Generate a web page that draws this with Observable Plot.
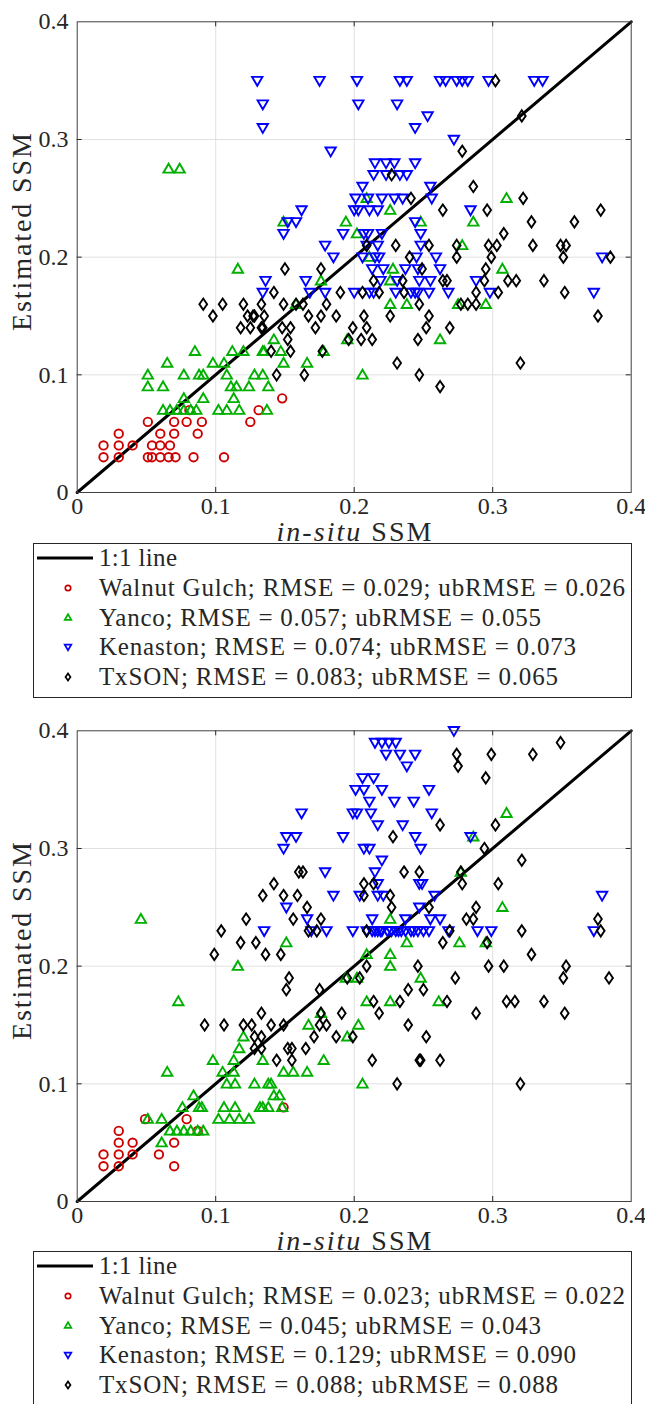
<!DOCTYPE html>
<html><head><meta charset="utf-8">
<script src="https://cdn.jsdelivr.net/npm/d3@7"></script>
<script src="https://cdn.jsdelivr.net/npm/@observablehq/plot@0.6"></script>
<style>
body{margin:0;background:#fff;}
#wrap{position:relative;width:645px;height:1404px;overflow:hidden;background:#fff;}
</style></head><body><div id="wrap"></div>
<script>
// ---------- data ----------
const axisTicks = [0, 0.1, 0.2, 0.3, 0.4];
const tickLabels = ["0", "0.1", "0.2", "0.3", "0.4"];
const innerTicks = [0.1, 0.2, 0.3];
const sites = ["Walnut Gulch", "Yanco", "Kenaston", "TxSON"];
const rmseTop = ["0.029", "0.057", "0.074", "0.083"];
const ubrmseTop = ["0.026", "0.055", "0.073", "0.065"];
const rmseBottom = ["0.023", "0.045", "0.129", "0.088"];
const ubrmseBottom = ["0.022", "0.043", "0.090", "0.088"];
const oneToOne = [[0, 0], [0.4, 0.4]];

// top panel: [in-situ, estimated]
const walnutTop = [[0.030,0.05],[0.019,0.04],[0.030,0.04],[0.040,0.04],[0.019,0.03],[0.030,0.03],
[0.051,0.06],[0.060,0.05],[0.070,0.06],[0.079,0.06],[0.090,0.06],[0.070,0.05],[0.087,0.05],
[0.054,0.04],[0.060,0.04],[0.067,0.04],[0.051,0.03],[0.054,0.03],[0.060,0.03],[0.066,0.03],
[0.071,0.03],[0.084,0.03],[0.106,0.03],[0.081,0.07],[0.125,0.06],[0.131,0.07],[0.148,0.08]];
const yancoTop = [[0.116,0.19],[0.085,0.12],[0.065,0.11],[0.051,0.10],[0.051,0.09],[0.062,0.09],
[0.077,0.10],[0.088,0.10],[0.091,0.10],[0.098,0.11],[0.106,0.11],[0.112,0.12],[0.120,0.12],
[0.134,0.12],[0.108,0.10],[0.111,0.09],[0.115,0.09],[0.124,0.09],[0.128,0.10],[0.134,0.10],
[0.138,0.09],[0.077,0.08],[0.091,0.08],[0.113,0.08],[0.062,0.07],[0.067,0.07],[0.072,0.07],
[0.077,0.07],[0.082,0.07],[0.086,0.07],[0.102,0.07],[0.108,0.07],[0.117,0.07],[0.137,0.07],
[0.066,0.275],[0.074,0.275],[0.209,0.25],[0.194,0.23],[0.202,0.22],[0.226,0.24],[0.248,0.23],
[0.149,0.23],[0.211,0.20],[0.176,0.18],[0.228,0.19],[0.226,0.18],[0.226,0.16],[0.238,0.16],
[0.262,0.13],[0.195,0.13],[0.158,0.16],[0.142,0.13],[0.135,0.12],[0.147,0.12],[0.149,0.11],
[0.166,0.11],[0.178,0.12],[0.206,0.10],[0.310,0.25],[0.286,0.23],[0.278,0.21],[0.307,0.19],
[0.275,0.16],[0.295,0.16]];
const kenastonTop = [[0.130,0.35],[0.175,0.35],[0.202,0.35],[0.233,0.35],[0.238,0.35],[0.262,0.35],
[0.266,0.35],[0.274,0.35],[0.278,0.35],[0.282,0.35],[0.297,0.35],[0.330,0.35],[0.336,0.35],
[0.134,0.33],[0.203,0.33],[0.231,0.33],[0.253,0.32],[0.134,0.31],[0.244,0.31],[0.272,0.30],
[0.183,0.29],[0.215,0.28],[0.223,0.28],[0.229,0.28],[0.244,0.28],[0.214,0.27],[0.223,0.27],
[0.233,0.27],[0.238,0.27],[0.206,0.26],[0.255,0.26],[0.201,0.25],[0.210,0.25],[0.220,0.25],
[0.229,0.25],[0.235,0.25],[0.256,0.25],[0.200,0.24],[0.203,0.24],[0.211,0.24],[0.217,0.24],
[0.162,0.24],[0.284,0.24],[0.152,0.23],[0.158,0.23],[0.244,0.23],[0.149,0.22],[0.192,0.22],
[0.207,0.22],[0.210,0.22],[0.220,0.22],[0.248,0.22],[0.179,0.21],[0.209,0.21],[0.217,0.21],
[0.248,0.21],[0.185,0.20],[0.206,0.20],[0.215,0.20],[0.218,0.20],[0.245,0.20],[0.259,0.20],
[0.379,0.20],[0.213,0.19],[0.221,0.19],[0.237,0.19],[0.246,0.19],[0.262,0.19],[0.136,0.18],
[0.165,0.18],[0.219,0.18],[0.231,0.18],[0.247,0.18],[0.255,0.18],[0.288,0.18],[0.134,0.17],
[0.168,0.17],[0.179,0.17],[0.200,0.17],[0.211,0.17],[0.214,0.17],[0.230,0.17],[0.241,0.17],
[0.244,0.17],[0.246,0.17],[0.254,0.17],[0.268,0.17],[0.298,0.17],[0.373,0.17]];
const txsonTop = [[0.091,0.16],[0.098,0.15],[0.105,0.16],[0.120,0.16],[0.133,0.16],[0.118,0.14],
[0.127,0.15],[0.123,0.15],[0.134,0.14],[0.140,0.12],[0.227,0.27],[0.241,0.25],[0.264,0.24],
[0.209,0.21],[0.230,0.21],[0.254,0.21],[0.240,0.20],[0.249,0.19],[0.267,0.18],[0.150,0.19],
[0.176,0.19],[0.214,0.18],[0.235,0.18],[0.142,0.17],[0.190,0.17],[0.206,0.17],[0.218,0.17],
[0.236,0.17],[0.149,0.16],[0.158,0.16],[0.163,0.16],[0.180,0.16],[0.176,0.15],[0.187,0.15],
[0.207,0.15],[0.226,0.15],[0.247,0.16],[0.254,0.15],[0.128,0.15],[0.135,0.15],[0.167,0.15],
[0.125,0.14],[0.133,0.14],[0.148,0.14],[0.154,0.14],[0.172,0.14],[0.199,0.14],[0.209,0.14],
[0.252,0.14],[0.152,0.13],[0.196,0.13],[0.205,0.13],[0.213,0.13],[0.246,0.13],[0.154,0.12],
[0.177,0.12],[0.144,0.10],[0.164,0.10],[0.231,0.11],[0.247,0.10],[0.262,0.09],[0.302,0.35],
[0.321,0.32],[0.278,0.29],[0.286,0.26],[0.322,0.25],[0.296,0.24],[0.378,0.24],[0.328,0.23],
[0.359,0.23],[0.308,0.22],[0.274,0.21],[0.297,0.21],[0.303,0.21],[0.329,0.21],[0.349,0.21],
[0.353,0.21],[0.274,0.20],[0.299,0.20],[0.351,0.20],[0.385,0.20],[0.295,0.19],[0.264,0.18],
[0.294,0.18],[0.311,0.18],[0.317,0.18],[0.337,0.18],[0.288,0.17],[0.304,0.17],[0.352,0.17],
[0.277,0.16],[0.282,0.16],[0.288,0.16],[0.376,0.15],[0.269,0.14],[0.320,0.11]];

// bottom panel
const walnutBottom = [[0.030,0.06],[0.030,0.05],[0.040,0.05],[0.019,0.04],[0.030,0.04],[0.040,0.04],
[0.019,0.03],[0.030,0.03],[0.049,0.07],[0.079,0.07],[0.070,0.05],[0.059,0.04],[0.070,0.03],
[0.087,0.06],[0.149,0.08]];
const yancoBottom = [[0.116,0.20],[0.073,0.17],[0.065,0.11],[0.098,0.12],[0.113,0.12],[0.105,0.11],
[0.120,0.14],[0.117,0.13],[0.134,0.12],[0.108,0.10],[0.114,0.10],[0.113,0.11],[0.128,0.10],
[0.140,0.10],[0.084,0.09],[0.076,0.08],[0.088,0.08],[0.090,0.08],[0.106,0.08],[0.114,0.08],
[0.134,0.08],[0.051,0.07],[0.061,0.07],[0.102,0.07],[0.110,0.07],[0.117,0.07],[0.124,0.07],
[0.067,0.06],[0.072,0.06],[0.077,0.06],[0.082,0.06],[0.087,0.06],[0.091,0.06],[0.061,0.05],
[0.046,0.24],[0.151,0.22],[0.226,0.24],[0.238,0.22],[0.209,0.21],[0.226,0.21],[0.226,0.20],
[0.248,0.19],[0.194,0.19],[0.202,0.19],[0.209,0.17],[0.226,0.17],[0.261,0.17],[0.176,0.16],
[0.167,0.15],[0.203,0.15],[0.195,0.14],[0.178,0.12],[0.149,0.11],[0.156,0.11],[0.166,0.11],
[0.138,0.10],[0.206,0.10],[0.142,0.09],[0.146,0.09],[0.132,0.08],[0.138,0.08],[0.148,0.08],
[0.310,0.33],[0.286,0.31],[0.277,0.28],[0.307,0.25],[0.276,0.22],[0.295,0.22]];
const kenastonBottom = [[0.272,0.40],[0.215,0.39],[0.220,0.39],[0.225,0.39],[0.230,0.39],
[0.223,0.38],[0.233,0.38],[0.244,0.38],[0.238,0.37],[0.206,0.36],[0.214,0.36],[0.201,0.35],
[0.207,0.35],[0.220,0.35],[0.254,0.35],[0.211,0.34],[0.229,0.34],[0.243,0.34],[0.162,0.33],
[0.199,0.33],[0.202,0.33],[0.212,0.33],[0.256,0.33],[0.217,0.32],[0.235,0.32],[0.151,0.31],
[0.158,0.31],[0.192,0.31],[0.244,0.31],[0.284,0.31],[0.149,0.30],[0.207,0.30],[0.211,0.30],
[0.248,0.30],[0.220,0.29],[0.179,0.28],[0.215,0.28],[0.217,0.27],[0.247,0.27],[0.249,0.27],
[0.185,0.26],[0.204,0.26],[0.217,0.26],[0.221,0.26],[0.258,0.26],[0.379,0.26],[0.151,0.25],
[0.247,0.25],[0.166,0.24],[0.213,0.24],[0.237,0.24],[0.255,0.24],[0.262,0.24],[0.135,0.23],
[0.169,0.23],[0.180,0.23],[0.199,0.23],[0.209,0.23],[0.213,0.23],[0.215,0.23],[0.217,0.23],
[0.219,0.23],[0.220,0.23],[0.224,0.23],[0.227,0.23],[0.230,0.23],[0.232,0.23],[0.234,0.23],
[0.237,0.23],[0.241,0.23],[0.243,0.23],[0.246,0.23],[0.250,0.23],[0.254,0.23],[0.268,0.23],
[0.289,0.23],[0.299,0.23],[0.373,0.23]];
const txsonBottom = [[0.349,0.39],[0.274,0.38],[0.299,0.38],[0.329,0.38],[0.275,0.37],[0.295,0.36],
[0.262,0.32],[0.302,0.32],[0.294,0.30],[0.321,0.29],[0.277,0.28],[0.278,0.27],[0.304,0.27],
[0.254,0.25],[0.288,0.25],[0.281,0.24],[0.286,0.24],[0.269,0.23],[0.321,0.23],[0.376,0.24],
[0.378,0.23],[0.264,0.22],[0.296,0.22],[0.328,0.21],[0.297,0.20],[0.308,0.20],[0.353,0.20],
[0.273,0.19],[0.351,0.19],[0.384,0.19],[0.250,0.18],[0.267,0.17],[0.310,0.17],[0.316,0.17],
[0.337,0.17],[0.288,0.16],[0.352,0.16],[0.252,0.14],[0.248,0.12],[0.262,0.12],[0.320,0.10],
[0.166,0.25],[0.156,0.24],[0.176,0.24],[0.122,0.24],[0.167,0.23],[0.173,0.23],[0.209,0.23],
[0.129,0.22],[0.136,0.21],[0.147,0.21],[0.227,0.25],[0.153,0.19],[0.151,0.18],[0.175,0.18],
[0.209,0.20],[0.195,0.19],[0.204,0.19],[0.246,0.20],[0.239,0.18],[0.214,0.17],[0.233,0.17],
[0.218,0.16],[0.133,0.16],[0.176,0.16],[0.191,0.16],[0.126,0.15],[0.140,0.15],[0.149,0.15],
[0.175,0.15],[0.180,0.15],[0.239,0.15],[0.128,0.14],[0.133,0.14],[0.171,0.14],[0.187,0.14],
[0.199,0.14],[0.152,0.13],[0.155,0.13],[0.165,0.13],[0.128,0.13],[0.144,0.12],[0.155,0.12],
[0.213,0.12],[0.247,0.12],[0.231,0.10],[0.228,0.31],[0.236,0.28],[0.247,0.28],[0.207,0.27],
[0.214,0.27],[0.226,0.26],[0.207,0.26],[0.160,0.28],[0.163,0.28],[0.142,0.27],[0.134,0.26],
[0.149,0.26],[0.159,0.26],[0.104,0.23],[0.118,0.22],[0.099,0.21],[0.092,0.15],[0.106,0.15],
[0.120,0.15],[0.133,0.13]];

// ---------- styling ----------
const colors = ["#cc0000", "#00b000", "#0000ff", "#000000"];
const FONT = "'Liberation Serif', 'Times New Roman', serif";
const TEXT = "#262626";

function unit(size) { return Math.sqrt(size / Math.PI) / 4; }
const symCircle = {draw(c, s) { const k = unit(s), r = 3.6 * k; c.moveTo(r, 0); c.arc(0, 0, r, 0, 2 * Math.PI); c.closePath(); }};
const symTriUp = {draw(c, s) { const k = unit(s); c.moveTo(0, -4.4 * k); c.lineTo(4.4 * k, 3.2 * k); c.lineTo(-4.4 * k, 3.2 * k); c.closePath(); }};
const symTriDown = {draw(c, s) { const k = unit(s); c.moveTo(-4.4 * k, -3.2 * k); c.lineTo(4.4 * k, -3.2 * k); c.lineTo(0, 4.4 * k); c.closePath(); }};
const symDiamond = {draw(c, s) { const k = unit(s); c.moveTo(0, -4.8 * k); c.lineTo(3.3 * k, 0); c.lineTo(0, 4.8 * k); c.lineTo(-3.3 * k, 0); c.closePath(); }};
const symbols = [symCircle, symTriUp, symTriDown, symDiamond];

const wrap = document.getElementById("wrap");

function panel(seriesList, top) {
  const W = 645, H = 545, mL = 76.7, mR = 14.3, mT = 21.3, mB = 53;
  const iw = W - mL - mR, ih = H - mT - mB;
  const tx = 5 / iw * 0.4, ty = 5 / ih * 0.4;
  const fmt = d => tickLabels[axisTicks.indexOf(d)];
  const dots = seriesList.map((data, i) => Plot.dot(data, {
    x: d => d[0], y: d => d[1], symbol: symbols[i], r: 4.7,
    stroke: colors[i], strokeWidth: 1.9, fill: "none"
  }));
  const chart = Plot.plot({
    width: W, height: H, marginLeft: mL, marginRight: mR, marginTop: mT, marginBottom: mB,
    x: {domain: [0, 0.4]}, y: {domain: [0, 0.4]},
    style: {fontFamily: FONT, fontSize: "24px", color: TEXT, background: "transparent", overflow: "visible"},
    marks: [
      Plot.gridX(innerTicks, {stroke: "#e0e0e0", strokeOpacity: 1, strokeWidth: 1}),
      Plot.gridY(innerTicks, {stroke: "#e0e0e0", strokeOpacity: 1, strokeWidth: 1}),
      Plot.axisX(axisTicks, {tickSize: 0, tickPadding: 4, tickFormat: fmt, label: null, fill: TEXT}),
      Plot.axisY(axisTicks, {tickSize: 0, tickPadding: 8.7, tickFormat: fmt, label: null, fill: TEXT}),
      Plot.ruleX(innerTicks, {y1: 0, y2: ty, stroke: TEXT}),
      Plot.ruleX(innerTicks, {y1: 0.4, y2: 0.4 - ty, stroke: TEXT}),
      Plot.ruleY(innerTicks, {x1: 0, x2: tx, stroke: TEXT}),
      Plot.ruleY(innerTicks, {x1: 0.4, x2: 0.4 - tx, stroke: TEXT}),
      Plot.line(oneToOne, {x: d => d[0], y: d => d[1], stroke: "black", strokeWidth: 3}),
      ...dots,
      Plot.frame({stroke: "#404040", strokeWidth: 1})
    ]
  });
  const svg = d3.select(chart);
  svg.append("text")
    .attr("transform", "translate(31,232) rotate(-90)")
    .attr("text-anchor", "middle").attr("font-size", 28).attr("fill", TEXT)
    .attr("font-family", FONT).attr("textLength", 198).attr("lengthAdjust", "spacing")
    .text("Estimated SSM");
  const xl = svg.append("text")
    .attr("x", 354).attr("y", 541).attr("text-anchor", "middle").attr("font-size", 28)
    .attr("fill", TEXT).attr("font-family", FONT).attr("textLength", 155).attr("lengthAdjust", "spacing");
  xl.append("tspan").attr("font-style", "italic").text("in-situ");
  xl.append("tspan").text(" SSM");
  chart.style.position = "absolute";
  chart.style.left = "0px";
  chart.style.top = top + "px";
  wrap.appendChild(chart);
}

function legend(rmse, ub, top) {
  const svg = d3.create("svg").attr("width", 645).attr("height", 165)
    .style("position", "absolute").style("left", "0px").style("top", top + "px");
  svg.append("rect").attr("x", 33.5).attr("y", 2.5).attr("width", 598).attr("height", 154)
    .attr("fill", "white").attr("stroke", TEXT).attr("stroke-width", 1);
  const rowY = [17, 47, 76.5, 106, 136];
  const labels = ["1:1 line"].concat(sites.map((s, i) => `${s}; RMSE = ${rmse[i]}; ubRMSE = ${ub[i]}`));
  const lens = [78, 526, 442, 477, 459];
  svg.append("line").attr("x1", 37).attr("x2", 93).attr("y1", rowY[0]).attr("y2", rowY[0])
    .attr("stroke", "black").attr("stroke-width", 3);
  sites.forEach((s, i) => {
    svg.append("path").attr("transform", `translate(68,${rowY[i + 1]})`)
      .attr("d", d3.symbol().type(symbols[i]).size(Math.PI * 9)())
      .attr("fill", "none").attr("stroke", colors[i]).attr("stroke-width", 1.7);
  });
  labels.forEach((t, i) => {
    svg.append("text").attr("x", 99).attr("y", rowY[i] + 8).attr("font-family", FONT)
      .attr("font-size", 25).attr("fill", TEXT).attr("textLength", lens[i])
      .attr("lengthAdjust", "spacing").text(t);
  });
  wrap.appendChild(svg.node());
}

panel([walnutTop, yancoTop, kenastonTop, txsonTop], 0);
legend(rmseTop, ubrmseTop, 541);
panel([walnutBottom, yancoBottom, kenastonBottom, txsonBottom], 709);
legend(rmseBottom, ubrmseBottom, 1249);
</script></body></html>
